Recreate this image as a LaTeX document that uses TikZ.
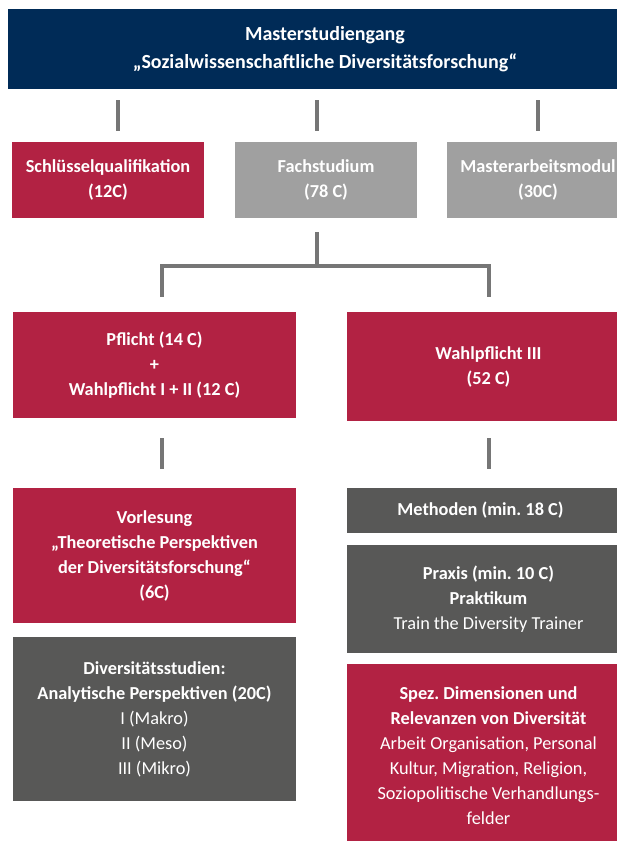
\documentclass[tikz,border=0pt]{standalone}
\usepackage{fontspec}
\setmainfont{Carlito}
\usetikzlibrary{positioning,calc}
\definecolor{navyblue}{RGB}{0,43,87}
\definecolor{crimson}{RGB}{178,34,67}
\definecolor{greylight}{RGB}{160,160,160}
\definecolor{greydark}{RGB}{88,88,87}
\definecolor{greyline}{RGB}{118,118,118}
\frenchspacing

\begin{document}
\begin{tikzpicture}[x=1pt,y=-1pt,
    box/.style={inner sep=0pt, text=white, align=center,
      font=\fontsize{18.3}{25}\selectfont},
    conn/.style={draw=greyline, line width=4pt}]
			\clip (0,0) rectangle (617,841);
			\fill[white] (0,0) rectangle (617,841);
			% top
			\node[box, fill=navyblue, minimum width=634pt, minimum height=80pt,
			  font=\bfseries\fontsize{20}{28}\selectfont] (title) at (325,49)
			  {Masterstudiengang\\„Sozialwissenschaftliche Diversitätsforschung“};
			% second row
			\node[box, fill=crimson, minimum width=192pt, minimum height=76pt] (schl) at (108,180)
			  {\bfseries Schlüsselqualifikation\\\bfseries (12C)};
			\node[box, fill=greylight, minimum width=182pt, minimum height=76pt] (fach) at (326,180)
			  {\bfseries Fachstudium\\\bfseries (78 C)};
			\node[box, fill=greylight, minimum width=182pt, minimum height=76pt] (master) at (538,180)
			  {\bfseries Masterarbeitsmodul\\\bfseries (30C)};
			\draw[conn, shorten <=11pt, shorten >=11pt] ([xshift=10pt]schl.north |- title.south) -- ([xshift=10pt]schl.north);
			\draw[conn, shorten <=11pt, shorten >=11pt] ([xshift=-9pt]fach.north |- title.south) -- ([xshift=-9pt]fach.north);
			\draw[conn, shorten <=11pt, shorten >=11pt] (master.north |- title.south) -- (master.north);
			% fachstudium
			\node[box, fill=crimson, minimum width=283pt, minimum height=106pt] (pflicht) at (154.5,365)
			  {\bfseries Pflicht (14 C)\\\bfseries +\\\bfseries Wahlpflicht I + II (12 C)};
			\node[box, fill=crimson, minimum width=283pt, minimum height=109pt] (wahl) at (488.5,366.5)
			  {\bfseries Wahlpflicht III\\\bfseries (52 C)};
			\coordinate (fork) at (317,266);
			\draw[conn, shorten <=14pt] ([xshift=-9pt]fach.south) -- (fork);
			\draw[conn, shorten >=15pt] (fork) -| ([xshift=7pt]pflicht.north);
			\draw[conn, shorten >=15pt] (fork) -| (wahl.north);
			% left column
			\node[box, fill=crimson, minimum width=283pt, minimum height=135pt] (vorl) at (154.5,555.5)
			  {\bfseries Vorlesung\\\bfseries „Theoretische Perspektiven\\\bfseries der Diversitätsforschung“\\\bfseries (6C)};
			\node[box, fill=greydark, minimum width=283pt, minimum height=164pt] (div) at (154.5,719)
			  {\bfseries Diversitätsstudien:\\\bfseries Analytische Perspektiven (20C)\\I (Makro)\\II (Meso)\\III (Mikro)};
			\draw[conn, shorten <=20pt, shorten >=19pt] ([xshift=7pt]pflicht.south) -- ([xshift=7pt]vorl.north);
			% right column
			\node[box, fill=greydark, minimum width=283pt, minimum height=45pt] (meth) at (488.5,510.5)
			  {\bfseries Methoden (min. 18 C)\hspace*{16pt}};
			\node[box, fill=greydark, minimum width=283pt, minimum height=108pt] (praxis) at (488.5,599)
			  {\bfseries Praxis (min. 10 C)\\\bfseries Praktikum\\Train the Diversity Trainer};
			\node[box, fill=crimson, minimum width=283pt, minimum height=184pt] (spez) at (488.5,756)
			  {\bfseries Spez. Dimensionen und\\\bfseries Relevanzen von Diversität\\Arbeit Organisation, Personal\\Kultur, Migration, Religion,\\Soziopolitische Verhandlungs-\\felder};
			\draw[conn, shorten <=17pt, shorten >=19pt] (wahl.south) -- (meth.north);
\end{tikzpicture}
\end{document}
